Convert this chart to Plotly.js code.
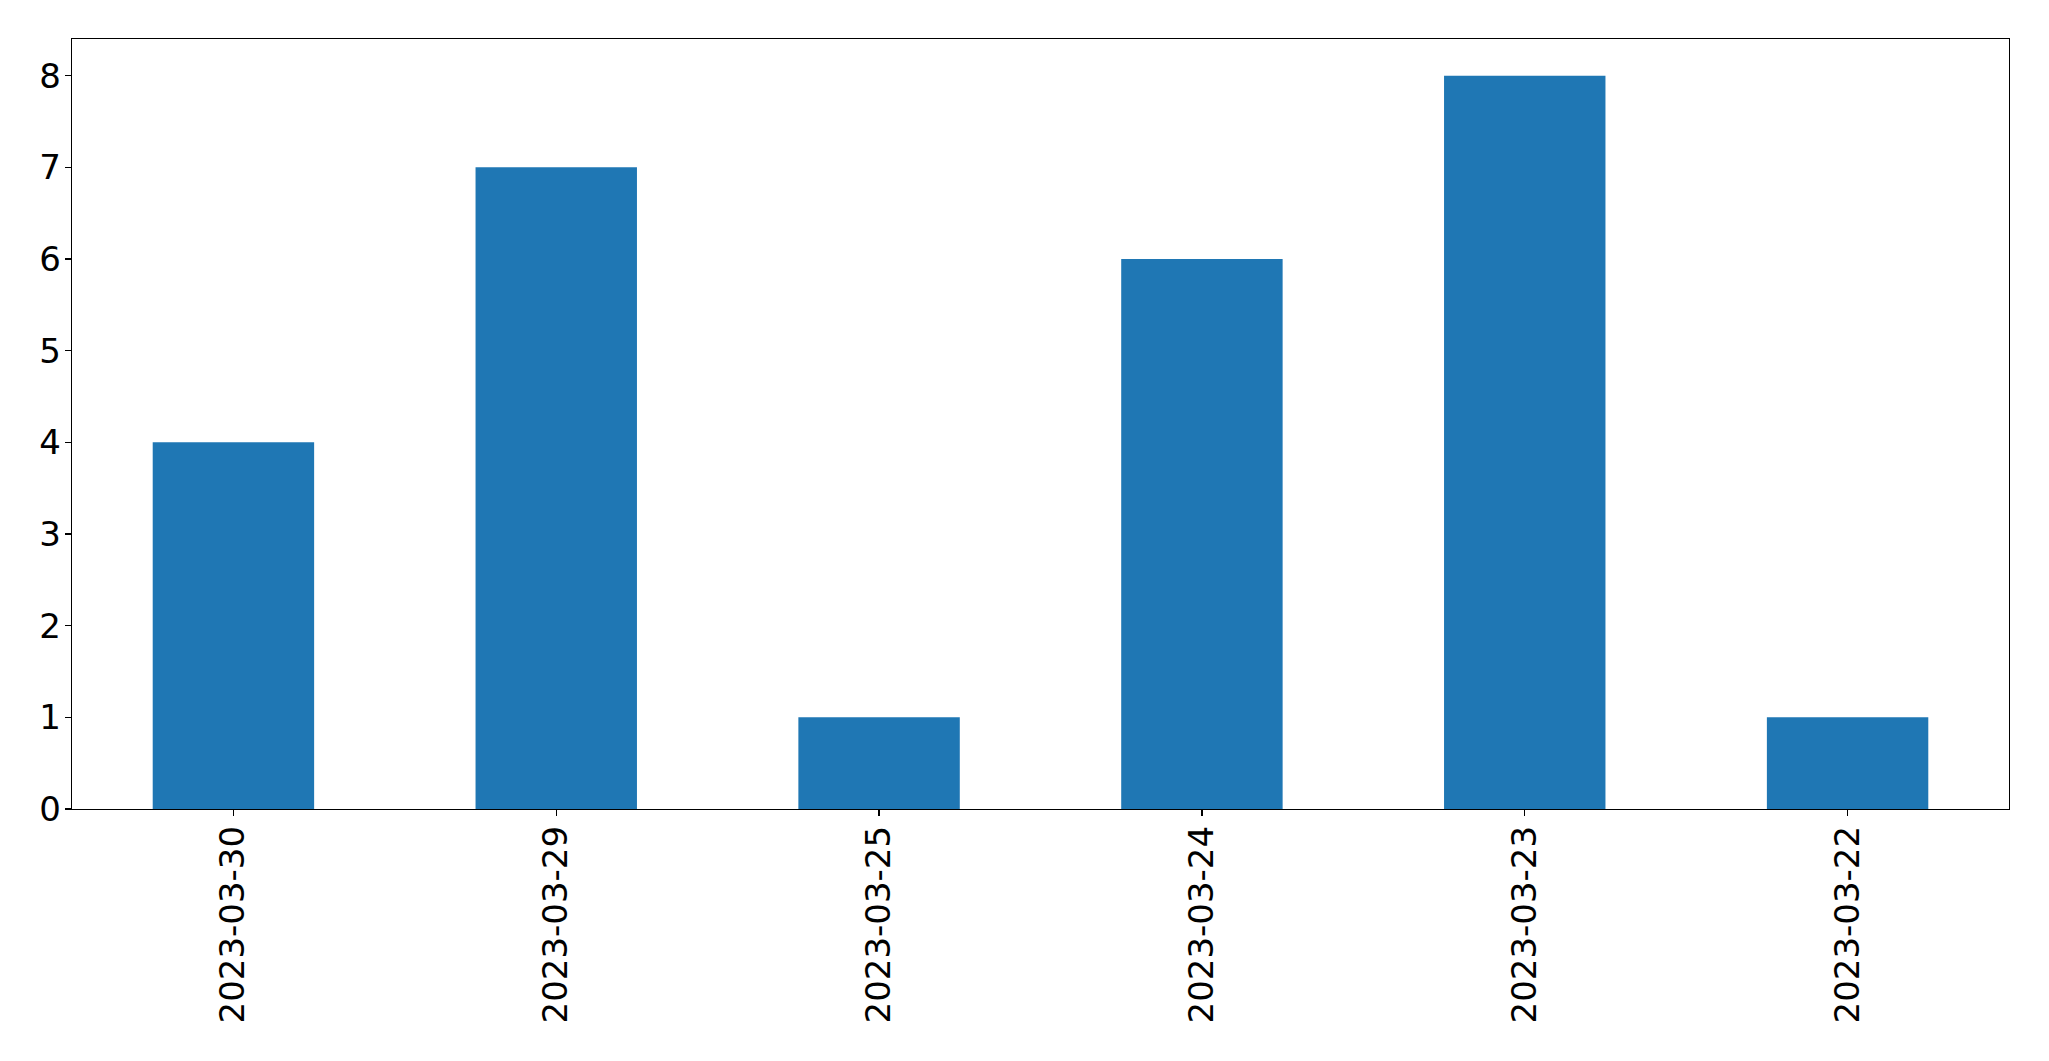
<!DOCTYPE html>
<html>
<head>
<meta charset="utf-8">
<script src="https://cdn.plot.ly/plotly-3.0.1.min.js"></script>
<style>html,body{margin:0;padding:0;background:#fff;}#chart{width:2049px;height:1061px;}</style>
</head>
<body>
<div id="chart"></div>
<script>
const categories = ["2023-03-30", "2023-03-29", "2023-03-25", "2023-03-24", "2023-03-23", "2023-03-22"];
const values = [4, 7, 1, 6, 8, 1];
const yTicks = [0, 1, 2, 3, 4, 5, 6, 7, 8];

const trace = {
  type: 'bar',
  x: categories,
  y: values,
  width: 0.5,
  marker: {color: '#1f77b4', line: {width: 0}},
  hoverinfo: 'x+y'
};

const font = {family: 'DejaVu Sans, sans-serif', size: 34, color: '#000'};

const layout = {
  width: 2049,
  height: 1061,
  margin: {l: 72, r: 40, t: 39, b: 252, pad: 0},
  paper_bgcolor: '#fff',
  plot_bgcolor: '#fff',
  showlegend: false,
  bargap: 0.5,
  font: font,
  xaxis: {
    type: 'category',
    range: [-0.5, 5.5],
    tickangle: -90,
    ticks: 'outside',
    ticklen: 6,
    tickwidth: 1.3,
    tickcolor: '#000',
    showline: true,
    linecolor: '#000',
    linewidth: 1.3,
    mirror: true,
    showgrid: false,
    zeroline: false,
    tickfont: font,
    ticklabelstandoff: -4
  },
  yaxis: {
    range: [0, 8.4],
    tickvals: yTicks,
    ticktext: yTicks.map(String),
    ticks: 'outside',
    ticklen: 6,
    tickwidth: 1.3,
    tickcolor: '#000',
    showline: true,
    linecolor: '#000',
    linewidth: 1.3,
    mirror: true,
    showgrid: false,
    zeroline: false,
    tickfont: font,
    ticklabelstandoff: -3
  }
};

Plotly.newPlot('chart', [trace], layout, {displayModeBar: false, staticPlot: true});
</script>
</body>
</html>
